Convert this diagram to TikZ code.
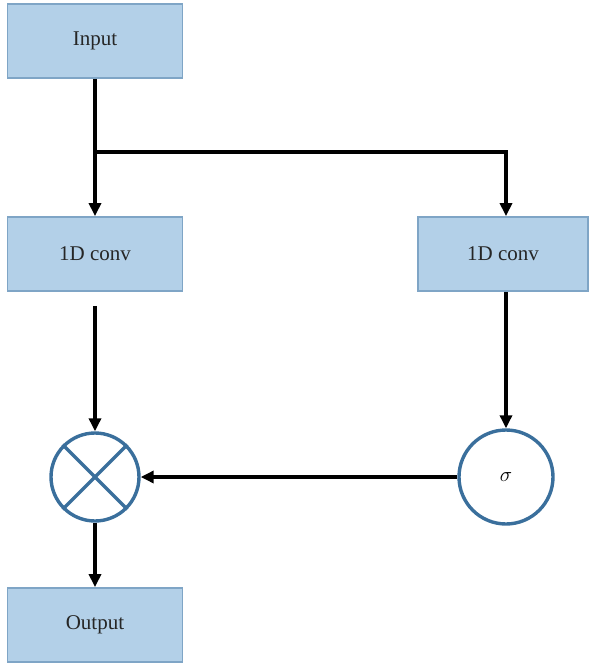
\documentclass[tikz,border=0pt]{standalone}
\usepackage{fontspec}
\setmainfont{Liberation Serif}
\usetikzlibrary{arrows.meta}

\definecolor{boxfill}{HTML}{B3D0E8}
\definecolor{boxline}{HTML}{7FA5C6}
\definecolor{ringline}{HTML}{3A6F9C}

\tikzset{
  block/.style={draw=boxline, line width=1.8pt, fill=boxfill, minimum width=175pt, minimum height=74pt, inner sep=0pt, font=\fontsize{21}{24}\selectfont, text=black!85},
  ring/.style={circle, draw=ringline, line width=3.4pt, fill=white, minimum size=90pt, inner sep=0pt},
  flow/.style={line width=3.4pt, -{Triangle[length=13pt,width=12pt]}},
  wire/.style={line width=3.4pt}
}

\begin{document}
\begin{tikzpicture}[x=1pt,y=-1pt]
        \useasboundingbox (0,0) rectangle (590,665);

        % Blocks
        \node[block] (input) at (95,41) {Input};
        \node[block] (lconv) at (95,254) {1D conv};
        \node[block, minimum width=170pt] (rconv) at (503,254) {1D conv};
        \node[block] (output) at (95,625) {Output};

        % Product and sigmoid
        \node[ring, minimum size=88pt] (prod) at (95,477) {};
        \draw[ringline, line width=3.4pt] (prod.north east) -- (prod.south west);
        \draw[ringline, line width=3.4pt] (prod.north west) -- (prod.south east);
        \node[ring, minimum size=94pt, font=\fontsize{21}{24}\selectfont] (sig) at (506,477) {$\sigma$};

        % Split point
        \coordinate (split) at (95,152);
        \coordinate (turn) at (506,152);

        % Connectors
        \draw[wire] (input.south) -- (split);
        \draw[flow] (split) -- (lconv.north);
        \draw[wire] ([xshift=-1.7pt]split) -- ([xshift=1.7pt]turn);
        \draw[flow] (turn) -- (turn |- rconv.north);
        \draw[flow] ([yshift=-14pt]lconv.south) -- (prod.north);
        \draw[flow] (sig.north |- rconv.south) -- (sig.north);
        \draw[flow] (sig.west) -- (prod.east);
        \draw[flow] (prod.south) -- (output.north);
    \end{tikzpicture}
\end{document}
